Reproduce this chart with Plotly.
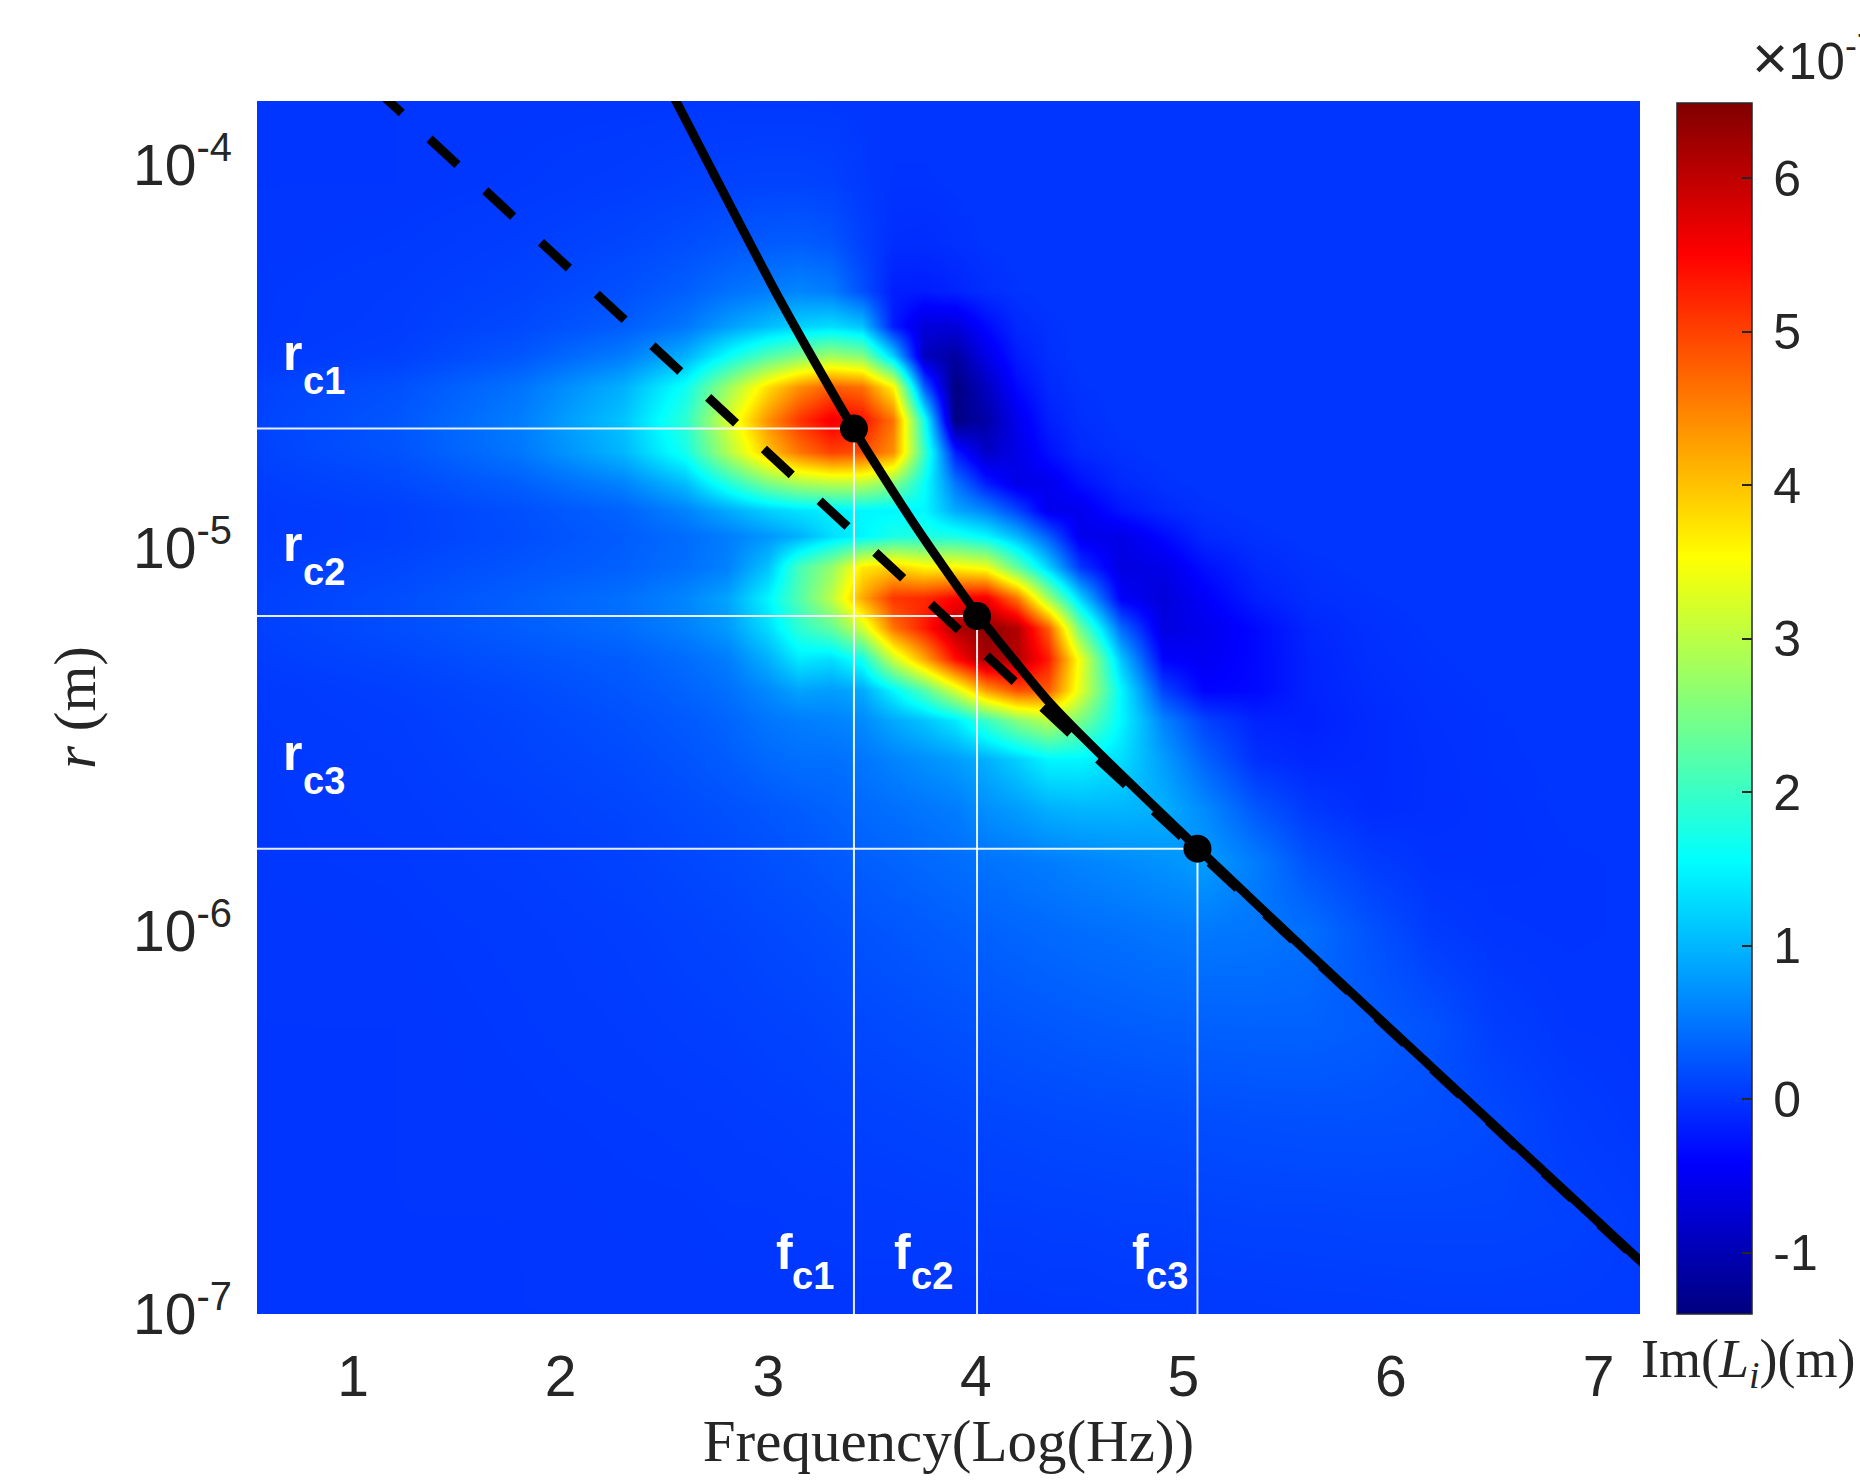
import numpy as np
import plotly.graph_objects as go

# ---------------- data ----------------
# heat-map grid: Im(L_i) in units of 1e-7 m, rows = log10(r) nodes (bottom -> top)
log_f_nodes = [0.5, 1.2, 1.8, 2.3, 2.6, 2.8, 3.0, 3.15, 3.3, 3.45, 3.6, 3.75, 3.9,
               4.05, 4.2, 4.35, 4.5, 4.7, 4.9, 5.1, 5.35, 5.6, 5.9, 6.2, 6.5, 6.85, 7.25]
log_r_nodes = [-7.0, -6.75, -6.5, -6.25, -6.0, -5.82, -5.68, -5.55, -5.45, -5.37, -5.29,
               -5.21, -5.13, -5.05, -4.97, -4.9, -4.83, -4.75, -4.665, -4.58, -4.5, -4.42,
               -4.33, -4.2, -4.05, -3.8]
im_L = [
    [0, 0, 0, 0, 0, 0, 0, 0, 0, 0, 0, 0, 0, 0, 0, 0.01, 0.01, 0.02, 0.02, 0.03, 0.03, 0.04, 0.04, 0.05, 0.05, 0.05, 0.04],
    [0, 0, 0, 0.01, 0.01, 0.02, 0.02, 0.03, 0.03, 0.04, 0.04, 0.05, 0.05, 0.06, 0.06, 0.07, 0.07, 0.08, 0.08, 0.09, 0.1, 0.1, 0.11, 0.11, 0.11, 0.09, 0.04],
    [0, 0, 0.01, 0.02, 0.03, 0.04, 0.05, 0.06, 0.07, 0.08, 0.09, 0.1, 0.11, 0.12, 0.13, 0.14, 0.15, 0.16, 0.17, 0.18, 0.19, 0.2, 0.2, 0.19, 0.15, 0.05, 0.0],
    [0, 0, 0.02, 0.04, 0.06, 0.07, 0.09, 0.1, 0.12, 0.14, 0.16, 0.18, 0.2, 0.22, 0.24, 0.26, 0.28, 0.3, 0.32, 0.33, 0.34, 0.34, 0.3, 0.22, 0.06, 0.0, -0.01],
    [0, 0.01, 0.03, 0.06, 0.09, 0.11, 0.14, 0.16, 0.19, 0.22, 0.25, 0.28, 0.31, 0.34, 0.37, 0.4, 0.43, 0.46, 0.5, 0.52, 0.5, 0.45, 0.22, 0.04, -0.01, -0.02, -0.01],
    [0.01, 0.02, 0.05, 0.09, 0.13, 0.16, 0.2, 0.23, 0.27, 0.31, 0.35, 0.39, 0.43, 0.47, 0.51, 0.55, 0.6, 0.66, 0.72, 0.8, 0.55, 0.22, 0.05, -0.03, -0.03, -0.02, -0.01],
    [0.01, 0.03, 0.07, 0.12, 0.17, 0.21, 0.26, 0.3, 0.35, 0.4, 0.45, 0.5, 0.55, 0.7, 0.8, 0.95, 1.0, 1.0, 0.95, 0.65, 0.25, 0.02, -0.08, -0.05, -0.03, -0.01, 0],
    [0.01, 0.04, 0.1, 0.16, 0.23, 0.3, 0.4, 0.45, 0.45, 0.5, 0.6, 0.7, 0.8, 0.95, 1.2, 1.5, 1.5, 1.3, 0.8, 0.35, -0.05, -0.12, -0.09, -0.05, -0.02, -0.01, 0],
    [0.02, 0.05, 0.12, 0.2, 0.28, 0.36, 0.5, 0.55, 0.6, 0.65, 0.9, 1.1, 1.4, 2.0, 2.6, 3.0, 2.5, 1.5, 0.6, 0.1, -0.15, -0.17, -0.09, -0.04, -0.02, 0, 0],
    [0.02, 0.07, 0.15, 0.25, 0.35, 0.45, 0.65, 0.85, 0.8, 0.9, 1.5, 2.2, 3.2, 4.3, 4.9, 4.8, 3.3, 1.5, 0.1, -0.4, -0.35, -0.15, -0.07, -0.03, -0.01, 0, 0],
    [0.05, 0.12, 0.22, 0.3, 0.42, 0.55, 0.95, 1.4, 1.3, 1.7, 3.1, 4.2, 5.4, 6.2, 6.1, 5.3, 3.4, 1.1, -0.4, -0.5, -0.35, -0.15, -0.05, -0.02, 0, 0, 0],
    [0.07, 0.18, 0.3, 0.42, 0.58, 0.78, 1.3, 1.9, 2.3, 3.15, 4.6, 5.3, 6.1, 6.4, 6.1, 4.8, 2.4, 0.4, -0.65, -0.55, -0.35, -0.12, -0.04, -0.01, 0, 0, 0],
    [0.07, 0.18, 0.32, 0.45, 0.62, 0.85, 1.5, 2.2, 3.0, 4.2, 5.1, 5.2, 5.5, 5.6, 4.6, 2.8, 1.2, -0.45, -0.7, -0.45, -0.18, -0.06, -0.02, 0, 0, 0, 0],
    [0.05, 0.13, 0.24, 0.33, 0.45, 0.58, 1.1, 2.1, 2.7, 3.7, 3.9, 3.6, 3.6, 3.4, 2.3, 1.2, 0.0, -0.65, -0.6, -0.3, -0.1, -0.03, 0, 0, 0, 0, 0],
    [0.03, 0.08, 0.18, 0.3, 0.42, 0.55, 0.75, 0.95, 1.3, 1.5, 1.75, 1.8, 1.75, 1.5, 1.0, 0.3, -0.55, -0.6, -0.35, -0.1, -0.03, 0, 0, 0, 0, 0, 0],
    [0.03, 0.08, 0.2, 0.35, 0.6, 0.9, 1.2, 1.35, 1.45, 1.5, 1.5, 1.5, 0.9, 0.6, 0.1, -0.55, -0.55, -0.25, -0.1, -0.03, 0, 0, 0, 0, 0, 0, 0],
    [0.05, 0.14, 0.32, 0.6, 1.05, 1.8, 2.5, 2.85, 3.0, 3.0, 2.6, 1.6, 0.5, -0.2, -0.6, -0.55, -0.3, -0.1, -0.03, 0, 0, 0, 0, 0, 0, 0, 0],
    [0.09, 0.22, 0.5, 1.0, 1.7, 2.9, 4.0, 4.6, 5.0, 4.9, 4.4, 2.0, -0.2, -0.85, -0.6, -0.3, -0.1, -0.03, 0, 0, 0, 0, 0, 0, 0, 0, 0],
    [0.1, 0.25, 0.55, 1.1, 1.9, 3.2, 4.4, 5.1, 5.6, 5.4, 4.6, 1.7, -1.38, -1.1, -0.55, -0.18, -0.05, 0, 0, 0, 0, 0, 0, 0, 0, 0, 0],
    [0.08, 0.2, 0.47, 0.95, 1.65, 2.75, 3.8, 4.4, 4.8, 4.65, 3.6, 0.3, -1.4, -0.9, -0.35, -0.1, -0.02, 0, 0, 0, 0, 0, 0, 0, 0, 0, 0],
    [0.02, 0.08, 0.25, 0.55, 0.95, 1.6, 2.2, 2.55, 2.8, 2.6, 1.2, -0.9, -1.15, -0.6, -0.2, -0.05, 0, 0, 0, 0, 0, 0, 0, 0, 0, 0, 0],
    [0.01, 0.05, 0.15, 0.3, 0.5, 0.8, 1.05, 1.2, 1.3, 1.1, -0.2, -0.7, -0.7, -0.35, -0.1, -0.03, 0, 0, 0, 0, 0, 0, 0, 0, 0, 0, 0],
    [0.01, 0.04, 0.1, 0.2, 0.32, 0.45, 0.55, 0.62, 0.55, 0.2, -0.18, -0.2, -0.14, -0.06, -0.02, 0, 0, 0, 0, 0, 0, 0, 0, 0, 0, 0, 0],
    [0, 0.02, 0.06, 0.12, 0.18, 0.24, 0.28, 0.3, 0.25, 0.08, -0.06, -0.07, -0.04, -0.01, 0, 0, 0, 0, 0, 0, 0, 0, 0, 0, 0, 0, 0],
    [0, 0, 0.02, 0.05, 0.08, 0.1, 0.11, 0.11, 0.09, 0.03, -0.02, -0.02, -0.01, 0, 0, 0, 0, 0, 0, 0, 0, 0, 0, 0, 0, 0, 0],
    [0, 0, 0, 0, 0, 0, 0, 0, 0, 0, 0, 0, 0, 0, 0, 0, 0, 0, 0, 0, 0, 0, 0, 0, 0, 0, 0],
]

# solid curve and dashed straight line (log10 Hz, log10 m)
solid_log_f = [2.50, 3.057, 3.409, 3.706, 4.006, 4.343, 4.513, 5.067, 5.588, 7.25]
solid_log_r = [-3.775, -4.353, -4.687, -4.940, -5.172, -5.396, -5.492, -5.783, -6.050, -6.886]
dashed_log_f = [1.10, 7.25]
dashed_log_r = [-3.797, -6.889]

# critical frequencies (log10 Hz) and radii (m)
fc_log = [3.413, 4.006, 5.068]
rc_m = [2.05e-5, 6.64e-6, 1.64e-6]
rc_names = ["c1", "c2", "c3"]

x_ticks = [1, 2, 3, 4, 5, 6, 7]
y_tick_exp = [-7, -6, -5, -4]
cbar_ticks = [-1, 0, 1, 2, 3, 4, 5, 6]
x_range = [0.537, 7.2]
y_range = [-7.0, -3.833]
z_range = [-1.40, 6.49]

# ---------------- figure ----------------
W, H = 1860, 1482
L, R, T, B = 257, 1640, 101, 1314


def px_x(px):
    return (px - L) / (R - L)


def px_y(py):
    return (B - py) / (B - T)


jet = [[0.0, "rgb(0,0,128)"], [0.125, "rgb(0,0,255)"], [0.375, "rgb(0,255,255)"],
       [0.625, "rgb(255,255,0)"], [0.875, "rgb(255,0,0)"], [1.0, "rgb(128,0,0)"]]

sans = "Liberation Sans, Arial, sans-serif"
serif = "Liberation Serif, Times New Roman, serif"
tick_font = dict(family=sans, size=57, color="#262626")

fig = go.Figure()
fig.add_trace(go.Heatmap(
    x=log_f_nodes, y=log_r_nodes, z=im_L, zsmooth="best",
    colorscale=jet, zmin=z_range[0], zmax=z_range[1], hoverinfo="skip",
    colorbar=dict(
        x=px_x(1677), xanchor="left", y=0, yanchor="bottom",
        len=0.998, lenmode="fraction", thickness=75, thicknessmode="pixels",
        xpad=0, ypad=0, outlinewidth=1.5, outlinecolor="#262626",
        tickmode="array", tickvals=cbar_ticks,
        ticktext=["\u2009" + str(v) for v in cbar_ticks],
        ticks="inside", ticklen=10, tickwidth=2, tickcolor="#262626",
        tickfont=dict(family=sans, size=50, color="#262626"),
    ),
))

rc_log = [float(np.log10(v)) for v in rc_m]
for f, r in zip(fc_log, rc_log):
    fig.add_trace(go.Scatter(
        x=[x_range[0], f, f], y=[r, r, y_range[0]], mode="lines",
        line=dict(color="rgba(255,255,255,0.9)", width=2), hoverinfo="skip", showlegend=False))

fig.add_trace(go.Scatter(x=dashed_log_f, y=dashed_log_r, mode="lines",
                         line=dict(color="black", width=9, dash="38px,38px"),
                         hoverinfo="skip", showlegend=False))
fig.add_trace(go.Scatter(x=solid_log_f, y=solid_log_r, mode="lines",
                         line=dict(color="black", width=9, shape="spline", smoothing=0.6),
                         hoverinfo="skip", showlegend=False))
fig.add_trace(go.Scatter(x=fc_log, y=rc_log, mode="markers",
                         marker=dict(color="black", size=28), hoverinfo="skip", showlegend=False))

# white labels (main letter + subscript); positions are (left, baseline) in pixels
main_fs, sub_fs = 50, 38
r_pos = [(280.5, 370, 300.5, 394), (280.5, 561, 300.5, 585), (280.5, 770, 300.5, 794)]
f_pos = [(773.5, 1269, 790, 1289), (892, 1269, 909, 1289), (1129.5, 1269, 1144, 1289)]
ann = []
for (mx, mb, sx, sb), name in zip(r_pos, rc_names):
    ann.append((mx, mb - 0.3465 * main_fs, "<b>r</b>", main_fs))
    ann.append((sx, sb - 0.3465 * sub_fs, "<b>%s</b>" % name, sub_fs))
for (mx, mb, sx, sb), name in zip(f_pos, rc_names):
    ann.append((mx, mb - 0.3465 * main_fs, "<b>f</b>", main_fs))
    ann.append((sx, sb - 0.3465 * sub_fs, "<b>%s</b>" % name, sub_fs))
for ax_, ay_, txt, fs in ann:
    fig.add_annotation(xref="paper", yref="paper", x=px_x(ax_), y=px_y(ay_), text=txt,
                       xanchor="left", yanchor="middle", showarrow=False,
                       font=dict(family=sans, size=fs, color="white"))

# colorbar exponent and label
fig.add_annotation(xref="paper", yref="paper", x=px_x(1750), y=px_y(57), xanchor="left",
                   yanchor="middle", showarrow=False,
                   text="<span style=\"font-size:62px\">\u00d7</span>10<sup>-7</sup>",
                   font=dict(family=sans, size=51, color="#262626"))
fig.add_annotation(xref="paper", yref="paper", x=px_x(1748), y=px_y(1362), xanchor="center",
                   yanchor="middle", showarrow=False,
                   text="Im(<i>L</i><sub><i>i</i></sub>)(m)",
                   font=dict(family=serif, size=54, color="#262626"))

fig.update_layout(
    width=W, height=H, margin=dict(l=L, r=W - R, t=T, b=H - B),
    paper_bgcolor="white", plot_bgcolor="white", showlegend=False,
    xaxis=dict(range=x_range, tickmode="array", tickvals=x_ticks, ticks="",
               showgrid=False, zeroline=False, showline=False, tickfont=tick_font,
               ticklabelstandoff=24,
               title=dict(text="Frequency(Log(Hz))", font=dict(family=serif, size=59, color="#262626"),
                          standoff=8)),
    yaxis=dict(range=y_range, tickmode="array", tickvals=y_tick_exp,
               ticktext=["10<sup>%d</sup>" % e for e in y_tick_exp], ticks="",
               showgrid=False, zeroline=False, showline=False, tickfont=tick_font,
               ticklabelstandoff=24,
               title=dict(text="<i>r</i> (m)", font=dict(family=serif, size=59, color="#262626"),
                          standoff=18)),
)

fig.write_html("out.html", config={"displayModeBar": False},
               post_script="document.body.style.margin='0px';")
